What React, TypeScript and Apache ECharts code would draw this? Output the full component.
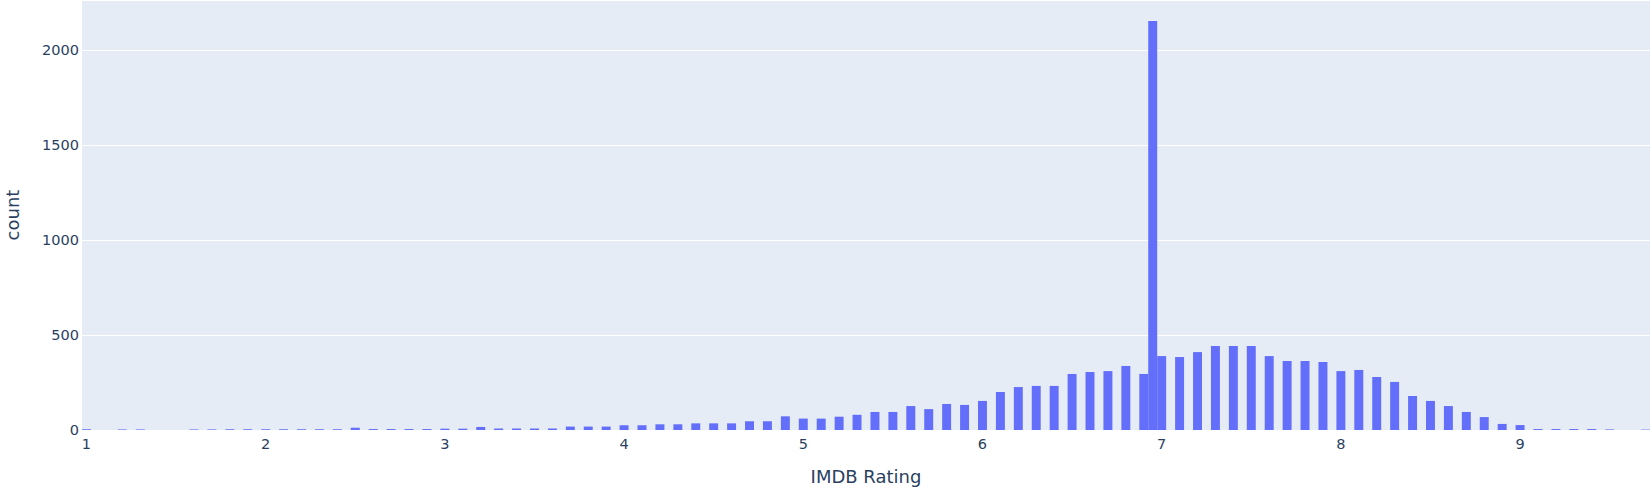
import React, { useEffect, useRef } from "react";
import * as echarts from "echarts";

// Bin centres (rating, bin width 0.05) and counts
const ratings = [
  1.0, 1.1, 1.2, 1.3, 1.4, 1.5, 1.6, 1.7, 1.8, 1.9,
  2.0, 2.1, 2.2, 2.3, 2.4, 2.5, 2.6, 2.7, 2.8, 2.9,
  3.0, 3.1, 3.2, 3.3, 3.4, 3.5, 3.6, 3.7, 3.8, 3.9,
  4.0, 4.1, 4.2, 4.3, 4.4, 4.5, 4.6, 4.7, 4.8, 4.9,
  5.0, 5.1, 5.2, 5.3, 5.4, 5.5, 5.6, 5.7, 5.8, 5.9,
  6.0, 6.1, 6.2, 6.3, 6.4, 6.5, 6.6, 6.7, 6.8, 6.9, 6.95,
  7.0, 7.1, 7.2, 7.3, 7.4, 7.5, 7.6, 7.7, 7.8, 7.9,
  8.0, 8.1, 8.2, 8.3, 8.4, 8.5, 8.6, 8.7, 8.8, 8.9,
  9.0, 9.1, 9.2, 9.3, 9.4, 9.5, 9.6, 9.7,
];
const counts = [
  4, 0, 3, 3, 0, 0, 3, 3, 4, 4,
  4, 4, 4, 4, 4, 12, 5, 5, 5, 5,
  7, 7, 16, 8, 8, 8, 8, 18, 18, 18,
  25, 25, 30, 30, 35, 35, 35, 46, 46, 72,
  60, 60, 70, 80, 95, 95, 126, 110, 137, 132,
  153, 200, 226, 232, 232, 295, 305, 310, 337, 295, 2152,
  389, 384, 410, 442, 442, 442, 389, 363, 363, 358,
  310, 316, 279, 253, 179, 153, 126, 95, 68, 32,
  26, 5, 5, 5, 5, 3, 0, 2,
];
const binWidth = 0.05;
const xTicks = [1, 2, 3, 4, 5, 6, 7, 8, 9];
const yTicks = [0, 500, 1000, 1500, 2000];
const xTitle = "IMDB Rating";
const yTitle = "count";

const TEXT = "#2a3f5f";
const FONT = "'DejaVu Sans', Verdana, sans-serif";

export default function App() {
  const ref = useRef<HTMLDivElement>(null);
  useEffect(() => {
    if (!ref.current) return;
    const chart = echarts.init(ref.current, null, { renderer: "svg" });
    const data = ratings.map((r, i) => [r, counts[i]]);
    chart.setOption({
      animation: false,
      backgroundColor: "#ffffff",
      grid: {
        left: 82,
        right: 2,
        top: 0,
        bottom: 68,
        containLabel: false,
        outerBoundsMode: "none",
        backgroundColor: "#E5ECF6",
        show: true,
        borderWidth: 0,
      },
      xAxis: {
        type: "value",
        min: 0.975,
        max: 9.725,
        name: xTitle,
        nameLocation: "middle",
        nameGap: 37,
        nameTextStyle: { color: TEXT, fontSize: 18, fontFamily: FONT },
        axisLine: { show: false },
        axisTick: { show: false },
        splitLine: { show: false },
        axisLabel: {
          customValues: xTicks,
          color: TEXT,
          fontSize: 14.5,
          fontFamily: FONT,
          margin: 6,
        },
      },
      yAxis: {
        type: "value",
        min: 0,
        max: 2263,
        interval: 500,
        name: yTitle,
        nameLocation: "middle",
        nameGap: 61,
        nameRotate: 90,
        nameTextStyle: { color: TEXT, fontSize: 18, fontFamily: FONT },
        axisLine: { show: false },
        axisTick: { show: false },
        splitLine: { show: true, lineStyle: { color: "#ffffff", width: 1 } },
        axisLabel: {
          customValues: yTicks,
          color: TEXT,
          fontSize: 14.5,
          fontFamily: FONT,
          margin: 3,
          formatter: (v: number) => String(v),
        },
      },
      series: [
        {
          type: "custom",
          data,
          renderItem: (params: any, api: any) => {
            const x = api.value(0);
            const y = api.value(1);
            const p0 = api.coord([x - binWidth / 2, y]);
            const p1 = api.coord([x + binWidth / 2, 0]);
            return {
              type: "rect",
              shape: { x: p0[0], y: p0[1], width: p1[0] - p0[0], height: p1[1] - p0[1] },
              style: { fill: "#636EFA" },
            };
          },
        },
      ],
    });
    return () => chart.dispose();
  }, []);
  return (
    <div
      ref={ref}
      style={{ position: "fixed", left: 0, top: 0, width: 1652, height: 498 }}
    />
  );
}
